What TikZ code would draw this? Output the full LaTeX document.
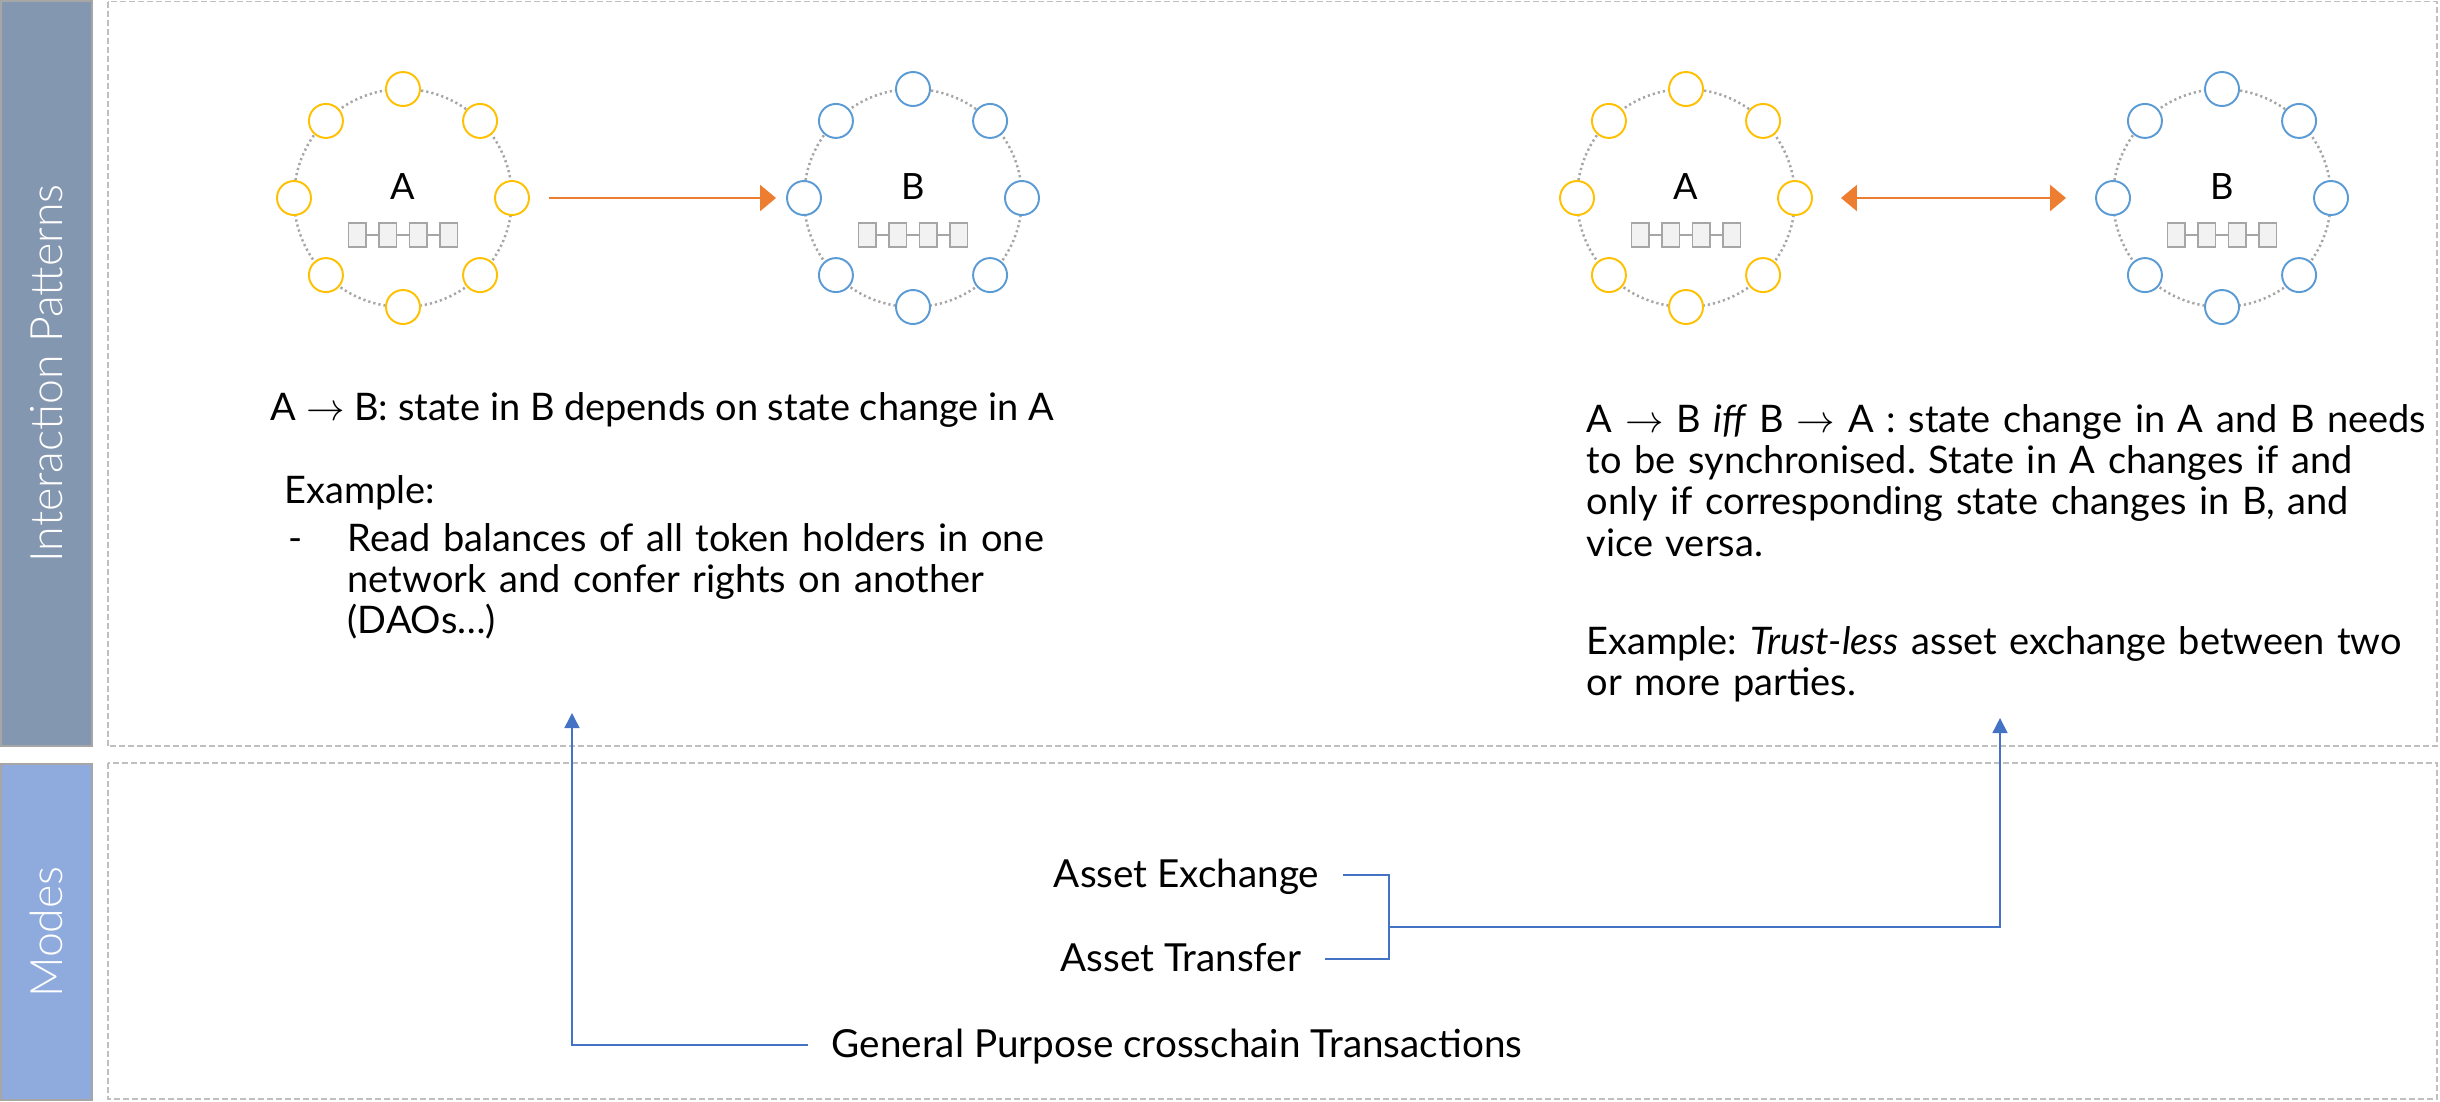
\documentclass[tikz,border=0pt]{standalone}
\usepackage{fontspec}
\setmainfont{Lato}
\newfontfamily\barfont{Lato Light}
\usetikzlibrary{arrows.meta}
\frenchspacing

\definecolor{barslate}{HTML}{8497B0}
\definecolor{barblue}{HTML}{8FAADC}
\definecolor{barrim}{HTML}{A6A6A6}
\definecolor{boxgray}{HTML}{BFBFBF}
\definecolor{ringgray}{HTML}{A6A6A6}
\definecolor{peeryellow}{HTML}{FFC000}
\definecolor{peerblue}{HTML}{5B9BD5}
\definecolor{linkorange}{HTML}{ED7D31}
\definecolor{modeblue}{HTML}{4472C4}
\definecolor{blockfill}{HTML}{F2F2F2}

\newcommand\bodyfont{\fontsize{10.8pt}{11.8pt}\selectfont}
\newcommand\modefont{\fontsize{11pt}{13pt}\selectfont}

\tikzset{
  sidebar/.style={rectangle, draw=barrim, line width=0.45pt, rotate=90,
    minimum height=9.1mm, inner sep=0pt, text=white,
    font=\barfont\fontsize{12.7pt}{14pt}\selectfont},
  zonebox/.style={draw=boxgray, line width=0.55pt, dash pattern=on 0.6mm off 0.3mm},
  ring/.style={draw=ringgray, line width=0.25mm, dash pattern=on 0.22mm off 0.3mm},
  peer/.style={circle, draw=#1, line width=0.55pt, fill=white,
    minimum size=3.4mm, inner sep=0pt},
  netlabel/.style={font=\fontsize{10.3pt}{12pt}\selectfont, inner sep=0pt},
  chainblock/.style={rectangle, draw=ringgray, fill=blockfill, line width=0.4pt,
    minimum width=1.75mm, minimum height=2.4mm, inner sep=0pt},
  chainlink/.style={draw=ringgray, line width=0.4pt},
  oneway/.style={draw=linkorange, line width=0.7pt,
    -{Triangle[length=1.6mm,width=2.6mm]}},
  twoway/.style={draw=linkorange, line width=0.7pt,
    {Triangle[length=1.6mm,width=2.6mm]}-{Triangle[length=1.6mm,width=2.6mm]}},
  para/.style={anchor=base west, inner sep=0pt, align=left, font=\bodyfont},
  block/.style={para, text width=95mm},
  modetext/.style={font=\modefont, inner xsep=2.3mm, inner ysep=0pt,
    text height=0.72em, text depth=0pt},
  modeline/.style={draw=modeblue, line width=0.45pt},
  modetip/.style={-{Triangle[length=1.5mm,width=1.5mm]}}
}

% one network: a dotted ring of eight peers with a small chain in the middle
% #1 name, #2 x, #3 y, #4 peer colour, #5 label
\newcommand\drawnet[5]{%
  \draw[ring] (#2,#3) circle[radius=10.9mm];
  \foreach \k in {0,...,7}{%
    \node[peer=#4] (#1-\k) at ([shift={(\k*45:10.9mm)}]#2,#3) {};
  }
  \node[netlabel] (#1-lbl) at (#2,#3-11) {#5};
  \foreach \j/\dx in {1/-45.75,2/-15.25,3/15.25,4/45.75}{%
    \node[chainblock] (#1-b\j) at (#2+\dx,#3+37) {};
  }
  \draw[chainlink] (#1-b1) -- (#1-b2) (#1-b2) -- (#1-b3) (#1-b3) -- (#1-b4);
}

\begin{document}
\begin{tikzpicture}[x=0.1mm, y=-0.1mm]
\useasboundingbox (0,0) rectangle (2440,1101);

% row headers
\node[sidebar, fill=barslate, minimum width=74.5mm] (barIP) at (46.5,373.5) {Interaction Patterns};
\node[sidebar, fill=barblue, minimum width=33.6mm] (barMD) at (46.5,932) {Modes};

% row frames
\draw[zonebox] (108,1.5) rectangle (2437,746);
\draw[zonebox] (108,763) rectangle (2437,1099);

% networks
\drawnet{netA}{403}{198}{peeryellow}{A}
\drawnet{netB}{913}{198}{peerblue}{B}
\drawnet{netC}{1686}{198}{peeryellow}{A}
\drawnet{netD}{2222}{198}{peerblue}{B}

\draw[oneway, shorten <=1.9mm, shorten >=1.0mm] (netA-0) -- (netB-4);
\draw[twoway, shorten <=2.8mm, shorten >=2.9mm] (netC-0) -- (netD-4);

% descriptions
\node[para] (ltitle) at (270,420) {A $\rightarrow$ B: state in B depends on state change in A};
\node[para] (lex) at (284,503) {Example:};
\node[para] (ldash) at (288,551) {-};
\node[block] (litem) at (347,551) {Read balances of all token holders in one\\
  network and confer rights on another\\
  (DAOs\ldots)};

\node[block] (rtitle) at (1586,432) {A $\rightarrow$ B \textit{iff} B $\rightarrow$ A : state change in A and B needs\\
  to be synchronised. State in A changes if and\\
  only if corresponding state changes in B, and\\
  vice versa.};
\node[block] (rex) at (1586,654) {Example: \textit{Trust-less} asset exchange between two\\
  or more parties.};

% modes
\node[modetext, anchor=east] (mEx) at (1343,875) {Asset Exchange};
\node[modetext, anchor=east] (mTr) at (1325,959) {Asset Transfer};
\node[modetext, anchor=west] (mGP) at (808,1045) {General Purpose crosschain Transactions};

\coordinate (join) at (1389,927);
\coordinate (tipR) at (2000,718);
\coordinate (tipL) at (572,713);

\draw[modeline] (mEx.east) -| (join);
\draw[modeline] (mTr.east) -| (join);
\draw[modeline, modetip] (join) -| (tipR);
\draw[modeline, modetip] (mGP.west) -| (tipL);
\end{tikzpicture}
\end{document}
